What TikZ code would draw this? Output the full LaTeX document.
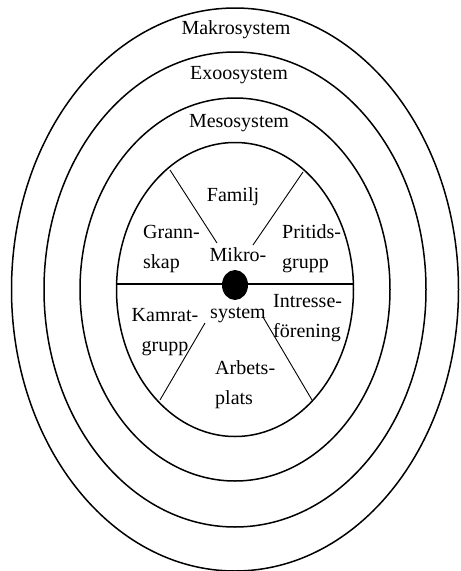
\documentclass[tikz,border=0pt]{standalone}
\usepackage{fontspec}
\setmainfont{Liberation Serif}
\usetikzlibrary{positioning}

\begin{document}
\begin{tikzpicture}[
  x=1pt, y=-1pt,
  ring/.style={draw=black, line width=1.5pt},
  ray/.style={draw=black, line width=0.9pt},
  lbl/.style={font=\fontsize{20}{30}\selectfont, inner sep=0pt, align=left},
  sys/.style={lbl, align=center},
]
\useasboundingbox (0,0) rectangle (461,571);

%% ---------- rings ----------
\coordinate (c) at (235,289.5);
\draw[ring] (c) ellipse [x radius=223.5, y radius=281.5];
\draw[ring] (c) ellipse [x radius=191, y radius=237.5];
\draw[ring] (c) ellipse [x radius=155, y radius=191.5];
\draw[ring] (c) ellipse [x radius=118.5, y radius=147];

\node[sys] (makro) at (236,30) {Makrosystem};
\node[sys] (exo) at (239,75) {Exoosystem};
\node[sys] (meso) at (239,123) {Mesosystem};

%% ---------- microsystem sectors ----------
\coordinate (hl) at (116.6,284);
\coordinate (hr) at (353.4,284);
\draw[ring] (hl) -- (hr);

\coordinate (ul) at (170,170);  \coordinate (ulin) at (217,243);
\coordinate (ur) at (303,172);  \coordinate (urin) at (253,245);
\coordinate (ll) at (160,400);  \coordinate (llin) at (205,323);
\coordinate (lr) at (312,400);  \coordinate (lrin) at (263,317);
\draw[ray] (ul) -- (ulin);
\draw[ray] (ur) -- (urin);
\draw[ray] (ll) -- (llin);
\draw[ray] (lr) -- (lrin);

\fill[black] (235,285) ellipse [x radius=13, y radius=15];

\node[sys] (familj) at (233,197) {Familj};
\node[lbl, anchor=west] (grann) at (143,249) {Grann-\\skap};
\node[lbl, anchor=west] (fritid) at (282,249) {Pritids-\\grupp};
\node[sys] (kamrat) at (165,332) {Kamrat-\\grupp};
\node[lbl, anchor=west] (intresse) at (273,318) {Intresse-\\förening};
\node[lbl, anchor=west] (arbete) at (215,385) {Arbets-\\plats};
\node[sys] (mikro) at (238,255) {Mikro-};
\node[sys] (system) at (238,315) {system};

\end{tikzpicture}
\end{document}
